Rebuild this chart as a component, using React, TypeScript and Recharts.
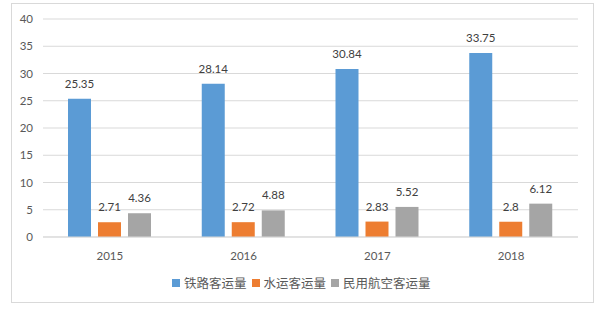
import { Bar, BarChart, CartesianGrid, LabelList, XAxis, YAxis } from "recharts";

const years = ["2015", "2016", "2017", "2018"];
const railway = [25.35, 28.14, 30.84, 33.75];
const waterway = [2.71, 2.72, 2.83, 2.8];
const aviation = [4.36, 4.88, 5.52, 6.12];
const yTicks = [0, 5, 10, 15, 20, 25, 30, 35, 40];

const seriesNames = ["铁路客运量", "水运客运量", "民用航空客运量"];
const colors = ["#5B9BD5", "#ED7D31", "#A5A5A5"];

const FONT = "Lato, 'Noto Sans CJK SC', sans-serif";

const data = years.map((year, i) => ({
  year,
  railway: railway[i],
  waterway: waterway[i],
  aviation: aviation[i],
}));

function ChartLegend() {
  return (
    <div
      style={{
        position: "absolute",
        left: 172,
        top: 273,
        display: "flex",
        alignItems: "center",
        fontFamily: FONT,
        fontSize: 12.5,
        color: "#595959",
      }}
    >
      {seriesNames.map((name, i) => (
        <div
          key={name}
          style={{ display: "flex", alignItems: "center", marginRight: 5 }}
        >
          <span
            style={{
              width: 8,
              height: 8,
              background: colors[i],
              display: "inline-block",
              marginRight: 4,
            }}
          />
          <span>{name}</span>
        </div>
      ))}
    </div>
  );
}

export default function App() {
  const keys = ["railway", "waterway", "aviation"];
  return (
    <div
      style={{
        position: "absolute",
        left: 0,
        top: 0,
        width: 602,
        height: 310,
        background: "#fff",
      }}
    >
      <div
        style={{
          position: "absolute",
          left: 11,
          top: 3,
          width: 581,
          height: 298,
          border: "1px solid #d9d9d9",
        }}
      />
      <BarChart
        width={602}
        height={310}
        data={data}
        margin={{ top: 19, right: 24, bottom: 43, left: 0 }}
        barSize={23}
        barGap={7}
        style={{ position: "absolute", left: 0, top: 0 }}
      >
        <CartesianGrid vertical={false} stroke="#d9d9d9" />
        <XAxis
          dataKey="year"
          height={30}
          axisLine={{ stroke: "#d9d9d9" }}
          tickLine={false}
          tickMargin={9}
          tick={{ fill: "#595959", fontSize: 11.5, fontFamily: FONT }}
        />
        <YAxis
          width={43}
          domain={[0, 40]}
          ticks={yTicks}
          axisLine={false}
          tickLine={false}
          tickMargin={4}
          tick={{ fill: "#595959", fontSize: 11.5, fontFamily: FONT }}
        />
        {keys.map((k, i) => (
          <Bar key={k} dataKey={k} fill={colors[i]} isAnimationActive={false}>
            <LabelList
              dataKey={k}
              position="top"
              offset={11}
              fill="#404040"
              fontSize={11.5}
              fontFamily={FONT}
            />
          </Bar>
        ))}
      </BarChart>
      <ChartLegend />
    </div>
  );
}
